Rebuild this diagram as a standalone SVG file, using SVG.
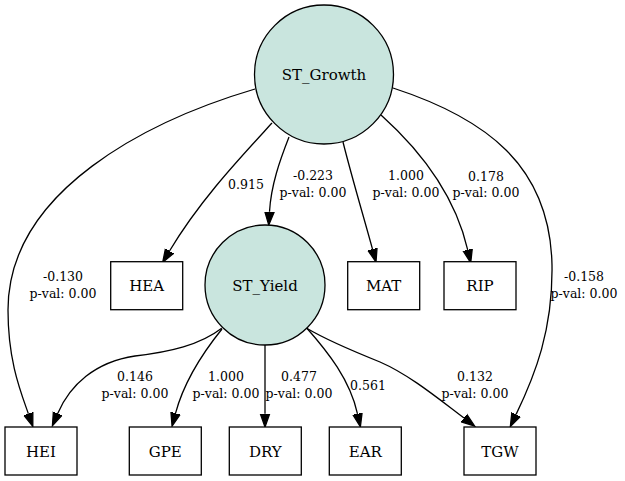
<svg xmlns="http://www.w3.org/2000/svg" width="625" height="481" viewBox="0 0 625 481">
<style>
.bg{fill:#ffffff}
.lat{fill:#c9e5de;stroke:#000;stroke-width:1.3}
.obs{fill:#ffffff;stroke:#000;stroke-width:1.3}
.nt{font-family:"DejaVu Serif","Liberation Serif",serif;font-size:15px;fill:#000;text-anchor:middle}
.e{fill:none;stroke:#000;stroke-width:1.3}
.lb{font-family:"DejaVu Serif","Liberation Serif",serif;font-size:12.5px;fill:#000;text-anchor:middle}
</style>
<defs>
<marker id="ah" markerUnits="userSpaceOnUse" markerWidth="16" markerHeight="12" viewBox="0 -6 16 12" refX="0" refY="0" orient="auto">
<polygon points="0,-4.7 13.3,0 0,4.7" fill="#000" stroke="#000" stroke-width="1.3"/>
</marker>
</defs>
<rect class="bg" x="0" y="0" width="625" height="481"/>
<g id="connectors">
<path class="e" marker-end="url(#ah)" d="M255,89 C150,120 8,190 8,310 C8,360 20,390 28.4,413.8"/>
<path class="e" marker-end="url(#ah)" d="M272,123 C240,158 200,200 169.5,251"/>
<path class="e" marker-end="url(#ah)" d="M289,137 C280,160 271,185 269.5,211.8"/>
<path class="e" marker-end="url(#ah)" d="M343,142 C352,178 364,218 372.5,249.2"/>
<path class="e" marker-end="url(#ah)" d="M381,115 C420,150 455,195 467.7,249.8"/>
<path class="e" marker-end="url(#ah)" d="M393,88 C485,118 550,165 552,265 C553,330 535,375 516.1,414.4"/>
<path class="e" marker-end="url(#ah)" d="M221.7,328.3 C200,345 170,352 135,356 C95,362 70,385 57.7,413.5"/>
<path class="e" marker-end="url(#ah)" d="M222,329 C205,350 185,378 175.5,413.3"/>
<path class="e" marker-end="url(#ah)" d="M265,345 L265,413.7"/>
<path class="e" marker-end="url(#ah)" d="M306.7,328 C328,352 350,380 357.5,413.8"/>
<path class="e" marker-end="url(#ah)" d="M306.7,328.3 C330,342 355,352 380,362 C410,375 440,400 464,418"/>
<text class="lb" x="63" y="281">-0.130</text>
<text class="lb" x="63" y="297.5">p-val: 0.00</text>
<text class="lb" x="246" y="188.5">0.915</text>
<text class="lb" x="313" y="180">-0.223</text>
<text class="lb" x="313" y="196.5">p-val: 0.00</text>
<text class="lb" x="406" y="180">1.000</text>
<text class="lb" x="406" y="196.5">p-val: 0.00</text>
<text class="lb" x="486" y="180.5">0.178</text>
<text class="lb" x="486" y="197">p-val: 0.00</text>
<text class="lb" x="584" y="281">-0.158</text>
<text class="lb" x="584" y="297.5">p-val: 0.00</text>
<text class="lb" x="135" y="381">0.146</text>
<text class="lb" x="135" y="398">p-val: 0.00</text>
<text class="lb" x="226" y="381">1.000</text>
<text class="lb" x="226" y="398">p-val: 0.00</text>
<text class="lb" x="299" y="381">0.477</text>
<text class="lb" x="299" y="398">p-val: 0.00</text>
<text class="lb" x="368" y="389.5">0.561</text>
<text class="lb" x="475" y="380.5">0.132</text>
<text class="lb" x="475" y="398">p-val: 0.00</text>
</g>
<g id="ST_Growth"><circle class="lat" cx="324" cy="74.5" r="69.5"/><text class="nt" x="324" y="80">ST_Growth</text></g>
<g id="ST_Yield"><circle class="lat" cx="265" cy="285" r="60"/><text class="nt" x="265" y="290.5">ST_Yield</text></g>
<g id="HEA"><rect class="obs" x="110.7" y="261.7" width="72" height="48"/><text class="nt" x="146.7" y="291">HEA</text></g>
<g id="MAT"><rect class="obs" x="347.7" y="261.7" width="72" height="48"/><text class="nt" x="383.7" y="291">MAT</text></g>
<g id="RIP"><rect class="obs" x="444" y="261.7" width="72" height="48"/><text class="nt" x="480" y="291">RIP</text></g>
<g id="HEI"><rect class="obs" x="5" y="427" width="72" height="48"/><text class="nt" x="41" y="456.5">HEI</text></g>
<g id="GPE"><rect class="obs" x="129.3" y="427" width="72" height="48"/><text class="nt" x="165.3" y="456.5">GPE</text></g>
<g id="DRY"><rect class="obs" x="229.3" y="427" width="72" height="48"/><text class="nt" x="265.3" y="456.5">DRY</text></g>
<g id="EAR"><rect class="obs" x="329.3" y="427" width="72" height="48"/><text class="nt" x="365.3" y="456.5">EAR</text></g>
<g id="TGW"><rect class="obs" x="464" y="427" width="72" height="48"/><text class="nt" x="500" y="456.5">TGW</text></g>
</svg>
